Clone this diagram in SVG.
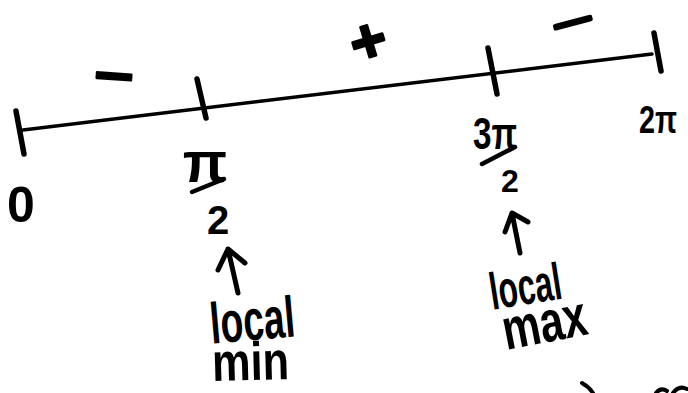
<svg xmlns="http://www.w3.org/2000/svg" width="688" height="393" viewBox="0 0 688 393">
<style>
.ink{fill:none;stroke:#000;stroke-linecap:round;stroke-linejoin:round}
.tick{stroke-width:5.5}
.t{font-family:"Liberation Sans","DejaVu Sans",sans-serif;font-weight:bold;fill:#000}
.m{text-anchor:middle}
.sg{stroke:#000;stroke-linejoin:round}
</style>
<rect width="688" height="393" fill="#fff"/>
<g id="connectors">
  <path id="axis" class="ink" stroke-width="3.5" d="M23,130 L652,54"/>
  <path id="arrow-min" class="ink" stroke-width="5" d="M238,293 L228,249 M218,270 L228,249 L245,263"/>
  <path id="arrow-max" class="ink" stroke-width="5" d="M520,253 L512,213 M505,232 L512,213 L528,222"/>
</g>
<g id="tick-0">
  <path class="ink tick" d="M16,111 L24,154"/>
  <text class="t m" x="21" y="222" font-size="50">0</text>
</g>
<g id="tick-pi-2">
  <path class="ink tick" d="M197,79 L206,118"/>
  <text class="t m" x="205" y="182" font-size="58">π</text>
  <path class="ink" stroke-width="4.5" d="M192,192 L224,179"/>
  <text class="t m" x="218" y="234" font-size="40">2</text>
</g>
<g id="tick-3pi-2">
  <path class="ink tick" d="M488,48 L497,94"/>
  <text class="t m" x="495" y="149" font-size="44" textLength="44" lengthAdjust="spacingAndGlyphs">3π</text>
  <path class="ink" stroke-width="4.5" d="M482,164 L515,147"/>
  <text class="t m" x="510" y="192" font-size="32">2</text>
</g>
<g id="tick-2pi">
  <path class="ink tick" d="M654,33 L661,71"/>
  <text class="t m" x="658" y="133" font-size="38" textLength="38" lengthAdjust="spacingAndGlyphs">2π</text>
</g>
<g id="sign-1">
  <text class="t m sg" stroke-width="2" transform="translate(114,78) rotate(4)" y="17" font-size="56" textLength="40" lengthAdjust="spacingAndGlyphs">−</text>
</g>
<g id="sign-2">
  <text class="t m sg" stroke-width="2.5" transform="translate(368,40) rotate(-17)" y="22" font-size="62">+</text>
</g>
<g id="sign-3">
  <text class="t m sg" stroke-width="3" transform="translate(573,23) rotate(-15)" y="11" font-size="34" textLength="40" lengthAdjust="spacingAndGlyphs">−</text>
</g>
<g id="label-min">
  <text class="t m" transform="translate(254,340) rotate(-5)" font-size="58" textLength="85" lengthAdjust="spacingAndGlyphs">local</text>
  <text class="t m" transform="translate(251,380) rotate(-1.5)" font-size="54" textLength="77" lengthAdjust="spacingAndGlyphs">min</text>
</g>
<g id="label-max">
  <text class="t m" transform="translate(528,304) rotate(-9)" font-size="52" textLength="72" lengthAdjust="spacingAndGlyphs">local</text>
  <text class="t m" transform="translate(548,342) rotate(-11)" font-size="58" textLength="85" lengthAdjust="spacingAndGlyphs">max</text>
</g>
<g id="edge-marks">
  <path class="ink" stroke-width="4" d="M582,383 Q589,387 593,393"/>
  <path class="ink" stroke-width="4" d="M656,393 Q661,387 667,391"/>
  <path class="ink" stroke-width="4" d="M673,393 Q679,385 687,389"/>
</g>
</svg>
